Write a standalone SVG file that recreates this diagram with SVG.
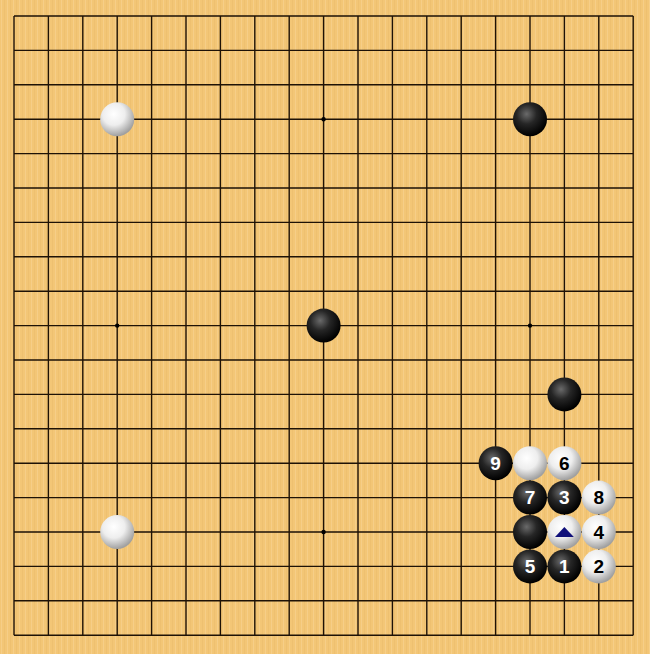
<svg xmlns="http://www.w3.org/2000/svg" width="650" height="654" viewBox="0 0 650 654">
<defs>
<pattern id="wood" width="6" height="654" patternUnits="userSpaceOnUse">
<rect width="6" height="654" fill="#F3C676"/>
<rect x="1" width="1" height="654" fill="#F8D290" opacity="0.7"/>
<rect x="4" width="1" height="654" fill="#EBBC6C" opacity="0.6"/>
</pattern>
<radialGradient id="gb" cx="0.4" cy="0.35" r="0.65">
<stop offset="0" stop-color="#6a6a6a"/>
<stop offset="0.45" stop-color="#262626"/>
<stop offset="1" stop-color="#000"/>
</radialGradient>
<radialGradient id="gw" cx="0.4" cy="0.35" r="0.65">
<stop offset="0" stop-color="#ffffff"/>
<stop offset="0.5" stop-color="#eeeeee"/>
<stop offset="1" stop-color="#a0a0a0"/>
</radialGradient>
<style>
.ln{stroke:#1e1206;stroke-width:1.4;fill:none}
.b{fill:url(#gb)}
.w{fill:url(#gw)}
.n{font-family:"Liberation Sans",Arial,sans-serif;font-size:19px;font-weight:bold;text-anchor:middle}
.nb{fill:#fff}
.nw{fill:#000}
</style>
</defs>
<rect width="650" height="654" fill="url(#wood)"/>
<g id="grid" class="ln">
<path d="M14 16H633.2M14 50.4H633.2M14 84.8H633.2M14 119.2H633.2M14 153.6H633.2M14 188H633.2M14 222.4H633.2M14 256.8H633.2M14 291.2H633.2M14 325.6H633.2M14 360H633.2M14 394.4H633.2M14 428.8H633.2M14 463.2H633.2M14 497.6H633.2M14 532H633.2M14 566.4H633.2M14 600.8H633.2M14 635.2H633.2"/>
<path d="M14 16V635.2M48.4 16V635.2M82.8 16V635.2M117.2 16V635.2M151.6 16V635.2M186 16V635.2M220.4 16V635.2M254.8 16V635.2M289.2 16V635.2M323.6 16V635.2M358 16V635.2M392.4 16V635.2M426.8 16V635.2M461.2 16V635.2M495.6 16V635.2M530 16V635.2M564.4 16V635.2M598.8 16V635.2M633.2 16V635.2"/>
</g>
<g id="hoshi" fill="#000">
<circle cx="323.6" cy="119.2" r="2.2"/>
<circle cx="117.2" cy="325.6" r="2.2"/>
<circle cx="530" cy="325.6" r="2.2"/>
<circle cx="323.6" cy="532" r="2.2"/>
</g>
<g id="stones">
<circle class="w" cx="117.2" cy="119.2" r="17"/>
<circle class="b" cx="530" cy="119.2" r="17"/>
<circle class="b" cx="323.6" cy="325.6" r="17"/>
<circle class="b" cx="564.4" cy="394.4" r="17"/>
<circle class="w" cx="530" cy="463.2" r="17"/>
<circle class="b" cx="530" cy="532" r="17"/>
<circle class="w" cx="117.2" cy="532" r="17"/>
</g>
<g id="m1"><circle class="b" cx="564.4" cy="566.4" r="17"/><text class="n nb" x="564.4" y="573.2">1</text></g>
<g id="m2"><circle class="w" cx="598.8" cy="566.4" r="17"/><text class="n nw" x="598.8" y="573.2">2</text></g>
<g id="m3"><circle class="b" cx="564.4" cy="497.6" r="17"/><text class="n nb" x="564.4" y="504.4">3</text></g>
<g id="m4"><circle class="w" cx="598.8" cy="532" r="17"/><text class="n nw" x="598.8" y="538.8">4</text></g>
<g id="m5"><circle class="b" cx="530" cy="566.4" r="17"/><text class="n nb" x="530" y="573.2">5</text></g>
<g id="m6"><circle class="w" cx="564.4" cy="463.2" r="17"/><text class="n nw" x="564.4" y="470">6</text></g>
<g id="m7"><circle class="b" cx="530" cy="497.6" r="17"/><text class="n nb" x="530" y="504.4">7</text></g>
<g id="m8"><circle class="w" cx="598.8" cy="497.6" r="17"/><text class="n nw" x="598.8" y="504.4">8</text></g>
<g id="m9"><circle class="b" cx="495.6" cy="463.2" r="17"/><text class="n nb" x="495.6" y="470">9</text></g>
<g id="tri"><circle class="w" cx="564.4" cy="532" r="17"/><polygon points="555,537 573.8,537 564.4,527" fill="#10107a"/></g>
</svg>
